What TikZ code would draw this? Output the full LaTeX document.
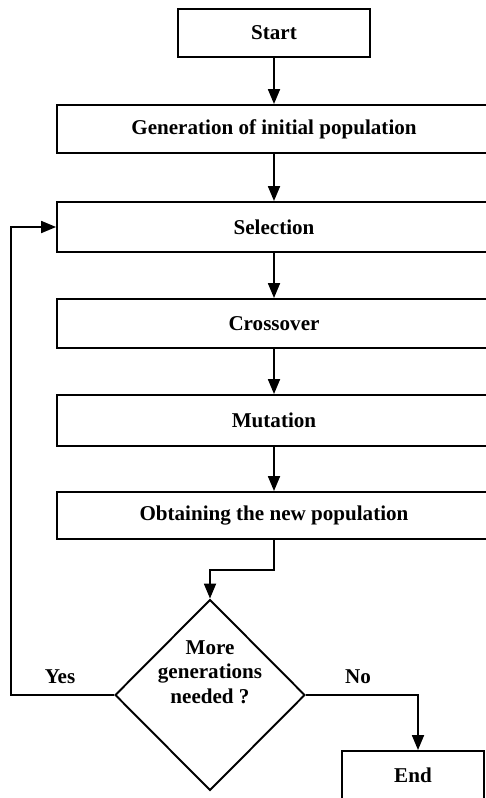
\documentclass[tikz,border=0pt]{standalone}
\usepackage{fontspec}
\setmainfont{Liberation Serif}
\usetikzlibrary{arrows.meta}
\usetikzlibrary{shapes.geometric}

\begin{document}
\begin{tikzpicture}[x=0.02cm, y=-0.02cm, line width=1.1pt,
    box/.style={draw, rectangle, inner sep=0pt, font=\bfseries\fontsize{12}{14}\selectfont},
    arr/.style={-{Triangle[width=6.8pt, length=8.5pt]}},
    lbl/.style={font=\bfseries\fontsize{12}{14}\selectfont}]
    \useasboundingbox (0, 0) rectangle (486, 798);
    \node[box, minimum width=3.84cm, minimum height=0.96cm] (start) at (274, 33) {Start};
    \node[box, minimum width=8.68cm, minimum height=0.96cm] (gen) at (274, 129) {Generation of initial population};
    \node[box, minimum width=8.68cm, minimum height=1.0cm] (sel) at (274, 227) {Selection};
    \node[box, minimum width=8.68cm, minimum height=0.98cm] (cross) at (274, 323.5) {Crossover};
    \node[box, minimum width=8.68cm, minimum height=1.02cm] (mut) at (274, 420.5) {Mutation};
    \node[box, minimum width=8.68cm, minimum height=0.94cm] (obt) at (274, 515.5) {Obtaining the new population};
    \node[draw, diamond, inner sep=0pt, minimum width=3.8cm, minimum height=3.82cm] (dec) at (210, 695) {};
    \node[lbl, align=center] (dectext) at (210, 672) {More\\generations\\needed ?};
    \node[box, minimum width=2.84cm, minimum height=0.96cm] (stop) at (413, 775) {End};
    \node[lbl] (yes) at (60, 677) {Yes};
    \node[lbl] (no) at (358, 677) {No};
    % connectors
    \draw[arr] (start) -- (gen);
    \draw[arr] (gen) -- (sel);
    \draw[arr] (sel) -- (cross);
    \draw[arr] (cross) -- (mut);
    \draw[arr] (mut) -- (obt);
    \coordinate (bend) at (274, 570);
    \draw[arr] (obt.south) -- (bend) -| (dec.north);
    \coordinate (loop) at (11, 695);
    \draw[arr] (dec.west) -- (loop) |- (sel.west);
    \coordinate (nojoin) at (418, 695);
    \draw[arr] (dec.east) -- (nojoin) -- (nojoin |- stop.north);
\end{tikzpicture}
\end{document}
